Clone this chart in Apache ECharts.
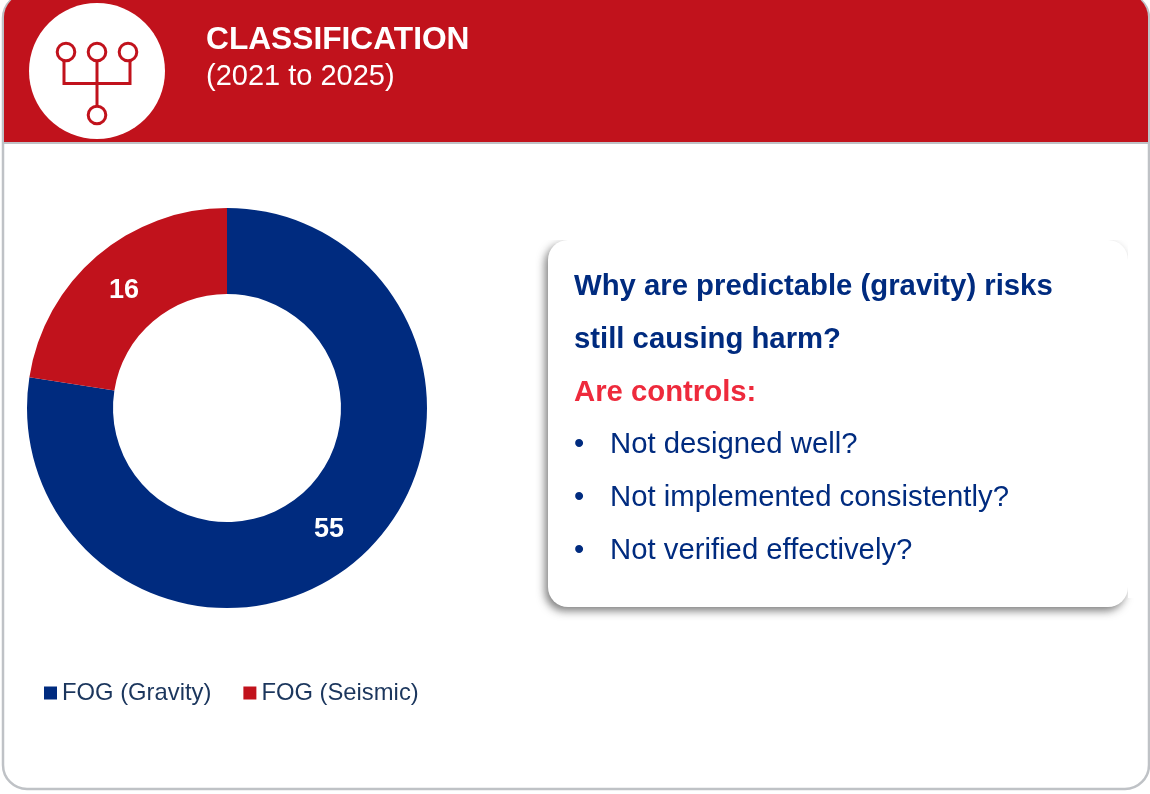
<!DOCTYPE html>
<html>
<head>
<meta charset="utf-8">
<title>Classification</title>
<style>
  html, body { margin: 0; padding: 0; background: #fff; }
  #chart { width: 1150px; height: 794px; }
</style>
</head>
<body>
<div id="chart"></div>
<script src="https://cdn.jsdelivr.net/npm/echarts@6/dist/echarts.min.js"></script>
<script>
var categories = ['FOG (Gravity)', 'FOG (Seismic)'];
var values = [55, 16];
var colors = ['#002b7f', '#c1121c'];
var titleText = 'CLASSIFICATION';
var subtitleText = '(2021 to 2025)';
var questionLines = ['Why are predictable (gravity) risks', 'still causing harm?'];
var controlsLabel = 'Are controls:';
var bulletLines = ['Not designed well?', 'Not implemented consistently?', 'Not verified effectively?'];

var font = '"Liberation Sans", Arial, sans-serif';
var navy = '#002b7f';
var red = '#c1121c';
var labelOffsets = [[-2, 0], [1, 4]];
var myChart = echarts.init(document.getElementById('chart'), null, {renderer: 'canvas'});

function iconCircle(x, y) {
    return {type: 'circle', z: 4, shape: {cx: x, cy: y, r: 8.8}, style: {fill: '#fff', stroke: red, lineWidth: 3}};
}
function iconLine(points) {
    return {type: 'polyline', z: 3, shape: {points: points}, style: {fill: null, stroke: red, lineWidth: 3}};
}
function label(x, y, text, size, weight, color) {
    return {type: 'text', z: 5, x: x, y: y, style: {
        text: text, fill: color, font: weight + ' ' + size + 'px ' + font,
        textVerticalAlign: 'middle', textBaseline: 'middle'
    }};
}

var graphics = [
    // outer frame
    {type: 'rect', z: 0, shape: {x: 3, y: -6, width: 1146, height: 795, r: 24},
        style: {fill: '#fff', stroke: '#bfc2c6', lineWidth: 2.5}},
    // header band
    {type: 'rect', z: 1, shape: {x: 4, y: -6, width: 1144, height: 148, r: [23, 23, 0, 0]}, style: {fill: red}},
    {type: 'rect', z: 1, shape: {x: 3, y: 142, width: 1146, height: 2}, style: {fill: '#bfc2c6'}},
    // icon
    {type: 'circle', z: 2, shape: {cx: 97, cy: 71, r: 68}, style: {fill: '#fff'}},
    iconLine([[64, 60], [64, 83.5], [130, 83.5], [130, 60]]),
    iconLine([[97, 60], [97, 106]]),
    iconCircle(66, 52), iconCircle(97, 52), iconCircle(128, 52), iconCircle(97, 115),
    label(206, 40, titleText, 31.7, 'bold', '#fff'),
    label(206, 77, subtitleText, 29, 'normal', '#fff'),
    // text card
    {type: 'rect', z: 1, shape: {x: 548, y: 240, width: 580, height: 367, r: 20},
        style: {fill: '#fff', shadowColor: 'rgba(60,60,60,0.65)', shadowBlur: 8, shadowOffsetX: -3, shadowOffsetY: 4}},
    // the shadow only shows on the left and bottom of the card
    {type: 'rect', z: 1, shape: {x: 536, y: 226, width: 604, height: 14}, style: {fill: '#fff'}},
    {type: 'rect', z: 1, shape: {x: 1128, y: 226, width: 12, height: 372}, style: {fill: '#fff'}}
];

questionLines.forEach(function (line, i) {
    graphics.push(label(574, 287 + i * 53, line, 29.3, 'bold', navy));
});
graphics.push(label(574, 393, controlsLabel, 29.3, 'bold', '#ee2a3c'));
bulletLines.forEach(function (line, i) {
    graphics.push(label(574, 445 + i * 53, '•', 29.3, 'normal', navy));
    graphics.push(label(610, 445 + i * 53, line, 29.3, 'normal', navy));
});

var option = {
    animation: false,
    backgroundColor: '#fff',
    textStyle: {fontFamily: font},
    color: colors,
    graphic: {elements: graphics},
    legend: {
        left: 39,
        top: 676,
        icon: 'rect',
        itemWidth: 13,
        itemHeight: 13,
        itemGap: 32,
        selectedMode: false,
        textStyle: {fontFamily: font, fontSize: 23.8, color: '#1b365d'},
        data: categories
    },
    series: [{
        type: 'pie',
        z: 3,
        center: [227, 408],
        radius: [114, 200],
        startAngle: 90,
        clockwise: true,
        silent: true,
        label: {
            show: true,
            position: 'inside',
            formatter: '{c}',
            color: '#fff',
            fontFamily: font,
            fontSize: 27,
            fontWeight: 'bold'
        },
        labelLine: {show: false},
        data: categories.map(function (name, i) {
            return {name: name, value: values[i], label: {offset: labelOffsets[i]}};
        })
    }]
};
myChart.setOption(option);
</script>
</body>
</html>
